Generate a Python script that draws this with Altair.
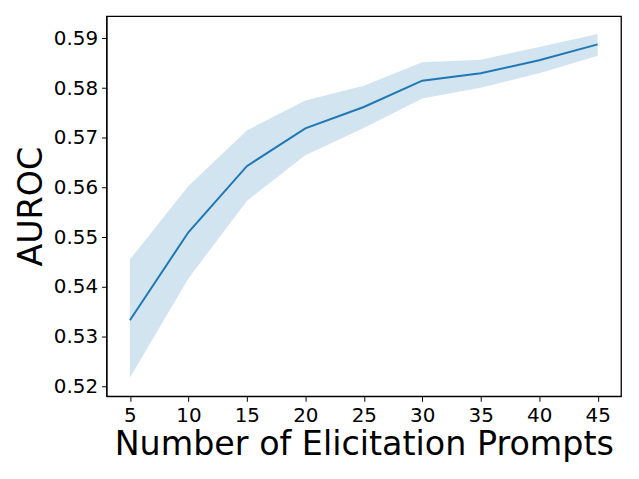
import altair as alt
import pandas as pd

prompts = [5, 10, 15, 20, 25, 30, 35, 40, 45]
auroc_mean = [0.5333, 0.5510, 0.5643, 0.5719, 0.5762, 0.5815, 0.5830, 0.5856, 0.5888]
auroc_upper = [0.5455, 0.5603, 0.5715, 0.5775, 0.5805, 0.5852, 0.5857, 0.5883, 0.5909]
auroc_lower = [0.5217, 0.5417, 0.5573, 0.5665, 0.5720, 0.5779, 0.5801, 0.5830, 0.5865]
x_ticks = [5, 10, 15, 20, 25, 30, 35, 40, 45]
y_ticks = [0.52, 0.53, 0.54, 0.55, 0.56, 0.57, 0.58, 0.59]

df = pd.DataFrame({"n": prompts, "m": auroc_mean, "hi": auroc_upper, "lo": auroc_lower})

xs = alt.Scale(domain=[3, 47], nice=False, zero=False)
ys = alt.Scale(domain=[0.518, 0.5945], nice=False, zero=False)

common = dict(grid=False, domainColor="black", tickColor="black", tickSize=5,
              labelFontSize=20, labelColor="black", labelFont="DejaVu Sans",
              titleFontSize=33.5, titleFont="DejaVu Sans", titleFontWeight="normal",
              titleColor="black", labelFlush=False)

xaxis = alt.Axis(values=x_ticks, format="d", title="Number of Elicitation Prompts",
                 labelPadding=4, titlePadding=4, **common)
yaxis = alt.Axis(values=y_ticks, format=".2f", title="AUROC",
                 labelPadding=4, titlePadding=5, **common)

band = alt.Chart(df).mark_area(color="#1f77b4", opacity=0.2).encode(
    x=alt.X("n:Q", scale=xs, axis=xaxis),
    y=alt.Y("lo:Q", scale=ys, axis=yaxis),
    y2="hi:Q",
)
line = alt.Chart(df).mark_line(color="#1f77b4", strokeWidth=2).encode(
    x=alt.X("n:Q", scale=xs),
    y=alt.Y("m:Q", scale=ys),
)

chart = (band + line).properties(
    width=517, height=382,
    background="white",
    autosize=alt.AutoSizeParams(type="none"),
    padding={"left": 99, "top": 7, "right": 10, "bottom": 75},
).configure_view(stroke="black", strokeWidth=1.3)

chart.save("out.html", embed_options={"renderer": "svg", "actions": False})
